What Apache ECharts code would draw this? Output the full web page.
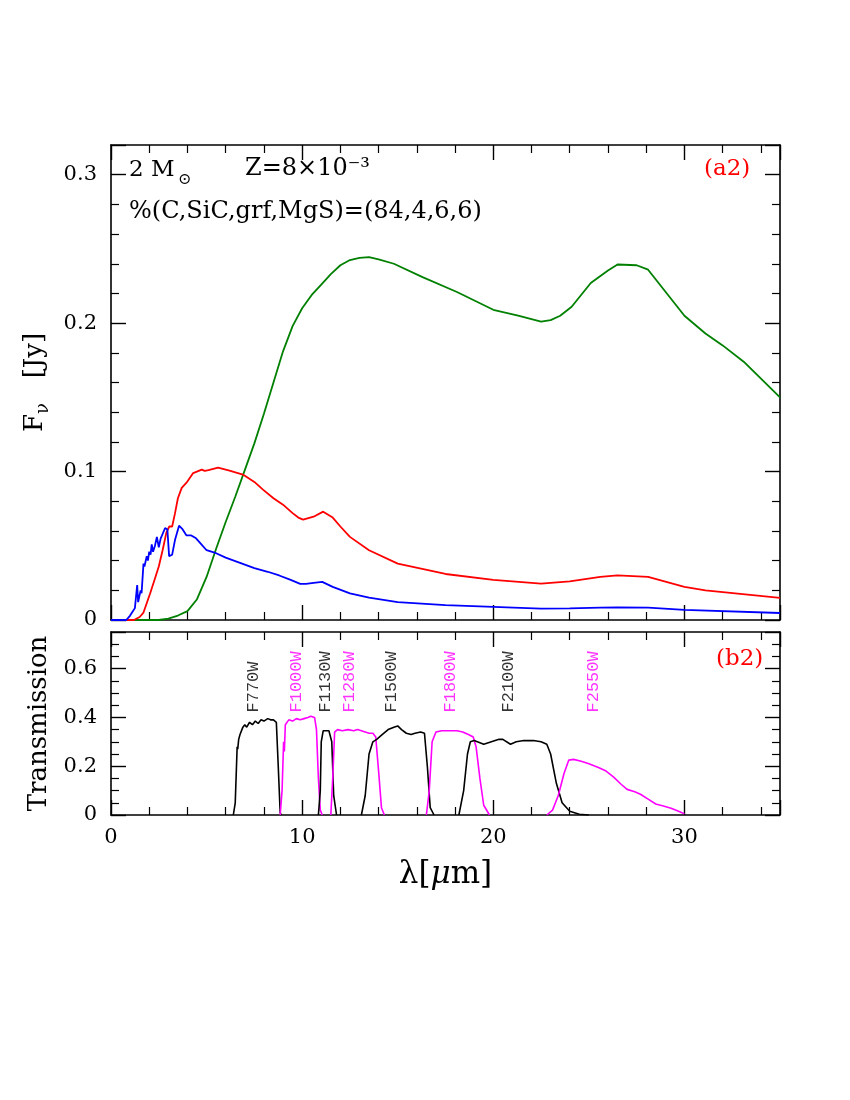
<!DOCTYPE html>
<html><head><meta charset="utf-8">
<script src="https://cdn.jsdelivr.net/npm/echarts/dist/echarts.min.js"></script>
<style>html,body{margin:0;padding:0;background:#fff}#c{width:850px;height:1100px}</style>
</head><body><div id="c"></div><script>
// ---- Top panel: SED components (F_nu in Jy vs wavelength in micron)
const greenX = [0,2.5,3.0,3.5,4.0,4.5,5.0,5.5,6.0,6.5,7.0,7.5,8.0,8.5,9.0,9.5,10.0,10.5,11.0,11.5,12.0,12.5,13.0,13.5,14.0,14.8,16.3,18.1,20.0,21.3,22.5,23.0,23.5,24.1,25.1,26.0,26.5,27.5,28.1,30.0,31.1,32.0,33.1,35.0];
const greenY = [0,0,0.001,0.003,0.006,0.014,0.029,0.048,0.066,0.083,0.101,0.119,0.139,0.160,0.181,0.198,0.210,0.219,0.226,0.233,0.239,0.2425,0.244,0.2445,0.243,0.240,0.231,0.221,0.209,0.205,0.201,0.202,0.205,0.211,0.227,0.2355,0.2395,0.239,0.236,0.205,0.193,0.185,0.174,0.150];

const redX = [0,1.2,1.5,1.7,2.05,2.3,2.5,2.7,2.9,3.05,3.2,3.35,3.5,3.7,3.95,4.3,4.75,4.9,5.1,5.6,6.2,6.9,7.5,7.95,8.5,9.0,9.5,9.8,10.05,10.6,11.1,11.6,12.0,12.5,13.5,15.0,17.5,20.0,22.5,24.0,25.6,26.5,28.1,30.0,31.1,35.0];
const redY = [0,0,0.002,0.005,0.018,0.028,0.036,0.047,0.059,0.063,0.063,0.072,0.082,0.089,0.0925,0.099,0.1013,0.1005,0.101,0.1027,0.1007,0.098,0.093,0.0878,0.082,0.0777,0.072,0.069,0.0676,0.0696,0.073,0.069,0.063,0.056,0.047,0.038,0.031,0.027,0.0245,0.026,0.029,0.030,0.029,0.0223,0.020,0.0149];

const blueX = [0,0.8,1.0,1.1,1.2,1.25,1.3,1.37,1.42,1.47,1.55,1.6,1.7,1.75,1.8,1.87,1.93,2.0,2.07,2.13,2.2,2.3,2.4,2.5,2.6,2.67,2.75,2.83,2.95,3.04,3.2,3.35,3.56,3.75,3.95,4.2,4.45,4.66,5.0,5.5,6.0,6.75,7.5,8.2,8.8,9.4,9.9,10.2,10.6,11.05,11.6,12.5,13.5,15.0,17.5,20.0,22.5,24.0,25.6,26.5,28.1,30.0,35.0];
const blueY = [0,0,0.003,0.005,0.004,0.008,0.007,0.0236,0.012,0.012,0.020,0.018,0.038,0.036,0.035,0.043,0.040,0.046,0.044,0.051,0.046,0.050,0.056,0.049,0.055,0.057,0.056,0.062,0.061,0.043,0.044,0.054,0.0635,0.061,0.057,0.057,0.055,0.052,0.047,0.045,0.042,0.0385,0.035,0.0325,0.030,0.027,0.0243,0.0243,0.025,0.0257,0.0223,0.018,0.015,0.012,0.010,0.0088,0.0076,0.0078,0.0083,0.0085,0.0083,0.0068,0.0047];

// ---- Bottom panel: MIRI filter transmission curves
const f770X  = [6.4,6.5,6.6,6.63,6.68,6.75,6.9,7.0,7.1,7.25,7.4,7.55,7.7,7.85,8.0,8.2,8.35,8.5,8.65,8.75,8.85,8.9];
const f770Y  = [0,0.05,0.28,0.27,0.31,0.33,0.36,0.37,0.36,0.38,0.37,0.385,0.375,0.39,0.385,0.395,0.39,0.39,0.38,0.2,0.01,0];
const f1000X = [8.85,8.95,9.03,9.07,9.12,9.3,9.5,9.7,9.9,10.1,10.3,10.45,10.55,10.65,10.75,10.85,10.95,11.05];
const f1000Y = [0,0.1,0.3,0.26,0.37,0.39,0.385,0.395,0.39,0.395,0.40,0.405,0.41,0.40,0.35,0.15,0.02,0];
const f1130X = [10.85,10.95,11.0,11.1,11.2,11.4,11.5,11.55,11.65,11.8];
const f1130Y = [0,0.1,0.3,0.345,0.35,0.345,0.35,0.3,0.08,0];
const f1280X = [11.5,11.6,11.7,11.85,12.1,12.4,12.7,12.9,13.1,13.3,13.5,13.7,13.85,14.0,14.15,14.3];
const f1280Y = [0,0.15,0.34,0.35,0.345,0.35,0.345,0.35,0.345,0.34,0.335,0.335,0.32,0.18,0.03,0];
const f1500X = [13.1,13.3,13.5,13.7,13.9,14.2,14.5,14.8,15.0,15.2,15.45,15.7,15.9,16.2,16.4,16.55,16.7,16.9];
const f1500Y = [0,0.08,0.25,0.3,0.31,0.33,0.35,0.36,0.365,0.35,0.335,0.33,0.335,0.34,0.335,0.2,0.03,0];
const f1800X = [16.5,16.65,16.8,17.0,17.3,17.7,18.1,18.4,18.7,18.95,19.1,19.3,19.5,19.8];
const f1800Y = [0,0.1,0.3,0.34,0.345,0.345,0.345,0.34,0.33,0.32,0.28,0.15,0.04,0];
const f2100X = [18.2,18.45,18.65,18.8,19.0,19.5,19.9,20.3,20.5,20.9,21.2,21.6,22.1,22.5,22.8,23.0,23.3,23.6,24.0,24.5,25.0];
const f2100Y = [0,0.1,0.25,0.3,0.305,0.29,0.30,0.31,0.31,0.29,0.30,0.305,0.305,0.30,0.29,0.25,0.13,0.05,0.015,0.003,0];
const f2550X = [22.8,23.1,23.4,23.7,23.95,24.2,24.6,25.0,25.5,25.9,26.3,26.7,27.0,27.4,27.7,28.1,28.5,28.9,29.3,29.6,29.9,30.0];
const f2550Y = [0,0.02,0.08,0.17,0.225,0.228,0.22,0.21,0.195,0.18,0.155,0.125,0.105,0.095,0.085,0.065,0.045,0.037,0.028,0.018,0.008,0.005];

const filterNames  = ['F770W','F1000W','F1130W','F1280W','F1500W','F1800W','F2100W','F2550W'];
const filterLabelX = [7.45,9.7,11.2,12.5,14.7,17.75,20.8,25.25];
const filterLabelY = 0.42;
const filterColors = ['#000000','#ff00ff','#000000','#ff00ff','#000000','#ff00ff','#000000','#ff00ff'];

const xTicks = {min:0, max:35, interval:10};
const yTopTicks = {min:0, max:0.32, interval:0.1};
const yBotTicks = {min:0, max:0.75, interval:0.2};

// ---- helpers
const zip = (xs, ys) => xs.map((x, i) => [x, ys[i]]);
const FONT = 'DejaVu Serif';
function minor(n) { return {show: true, splitNumber: n, length: 8, lineStyle: {color: '#000', width: 1.2}}; }
function axisCommon(extra) {
  return Object.assign({
    type: 'value',
    axisLine: {show: true, onZero: false, lineStyle: {color: '#000', width: 1.6}},
    axisTick: {show: true, inside: true, length: 15, lineStyle: {color: '#000', width: 1.4}},
    splitLine: {show: false},
    axisLabel: {show: false}
  }, extra);
}
function lineSeries(data, color, xi, yi, w) {
  return {type: 'line', data, xAxisIndex: xi, yAxisIndex: yi, showSymbol: false, symbol: 'none',
    lineStyle: {color, width: w || 1.8}, itemStyle: {color}, animation: false, silent: true, z: 3};
}

const labelStyle = {fontFamily: FONT, fontSize: 21, color: '#000'};

const option = {
  animation: false,
  backgroundColor: '#fff',
  grid: [
    {left: 111, top: 145, width: 669, height: 475},
    {left: 111, top: 632, width: 669, height: 183}
  ],
  xAxis: [
    axisCommon(Object.assign({gridIndex: 0, position: 'bottom', minorTick: minor(5)}, xTicks)),
    axisCommon(Object.assign({gridIndex: 0, position: 'top', minorTick: minor(5)}, xTicks)),
    axisCommon(Object.assign({gridIndex: 1, position: 'bottom', minorTick: minor(5),
      axisLabel: Object.assign({show: true, margin: 12, showMaxLabel: false}, labelStyle),
      name: 'λ[{i|μ}m]', nameLocation: 'middle', nameGap: 44,
      nameTextStyle: {fontFamily: FONT, fontSize: 31, color: '#000',
        rich: {i: {fontFamily: FONT, fontSize: 31, fontStyle: 'italic', color: '#000'}}}}, xTicks)),
    axisCommon(Object.assign({gridIndex: 1, position: 'top', minorTick: minor(5)}, xTicks))
  ],
  yAxis: [
    axisCommon(Object.assign({gridIndex: 0, position: 'left', minorTick: minor(5),
      axisLabel: Object.assign({show: true, margin: 14, showMaxLabel: false}, labelStyle),
      name: 'F{sub|ν}   [Jy]', nameLocation: 'middle', nameGap: 50, nameRotate: 90,
      nameTextStyle: {fontFamily: FONT, fontSize: 26, color: '#000', lineHeight: 34,
        rich: {sub: {fontFamily: FONT, fontSize: 18, color: '#000', verticalAlign: 'bottom', lineHeight: 34}}}}, yTopTicks)),
    axisCommon(Object.assign({gridIndex: 0, position: 'right', minorTick: minor(5)}, yTopTicks)),
    axisCommon(Object.assign({gridIndex: 1, position: 'left', minorTick: minor(4),
      axisLabel: Object.assign({show: true, margin: 14, showMaxLabel: false}, labelStyle),
      name: 'Transmission', nameLocation: 'middle', nameGap: 56, nameRotate: 90,
      nameTextStyle: {fontFamily: FONT, fontSize: 26, color: '#000'}}, yBotTicks)),
    axisCommon(Object.assign({gridIndex: 1, position: 'right', minorTick: minor(4)}, yBotTicks))
  ],
  series: [
    lineSeries(zip(greenX, greenY), '#008000', 0, 0),
    lineSeries(zip(redX, redY), '#ff0000', 0, 0),
    lineSeries(zip(blueX, blueY), '#0000ff', 0, 0),
    lineSeries(zip(f770X, f770Y), '#000000', 2, 2, 1.6),
    lineSeries(zip(f1000X, f1000Y), '#ff00ff', 2, 2, 1.6),
    lineSeries(zip(f1130X, f1130Y), '#000000', 2, 2, 1.6),
    lineSeries(zip(f1280X, f1280Y), '#ff00ff', 2, 2, 1.6),
    lineSeries(zip(f1500X, f1500Y), '#000000', 2, 2, 1.6),
    lineSeries(zip(f1800X, f1800Y), '#ff00ff', 2, 2, 1.6),
    lineSeries(zip(f2100X, f2100Y), '#000000', 2, 2, 1.6),
    lineSeries(zip(f2550X, f2550Y), '#ff00ff', 2, 2, 1.6),
    {
      type: 'scatter', xAxisIndex: 2, yAxisIndex: 2, symbolSize: 0, silent: true, animation: false,
      data: filterNames.map((n, i) => ({
        value: [filterLabelX[i], filterLabelY],
        label: {show: true, formatter: n, rotate: 90, position: 'inside', align: 'left', verticalAlign: 'middle',
          fontFamily: 'Liberation Mono', fontSize: 17, color: filterColors[i]}
      }))
    }
  ],
  graphic: [
    {type: 'text', left: 129, top: 159, style: {text: '2 M', font: '23px "DejaVu Serif"', fill: '#000'}},
    {type: 'text', left: 178, top: 172, style: {text: '⊙', font: '16px "DejaVu Serif"', fill: '#000'}},
    {type: 'text', left: 245, top: 157, style: {text: 'Z=8×10⁻³', font: '24px "DejaVu Serif"', fill: '#000'}},
    {type: 'text', left: 129, top: 200, style: {text: '%(C,SiC,grf,MgS)=(84,4,6,6)', font: '24px "DejaVu Serif"', fill: '#000'}},
    {type: 'text', left: 704, top: 158, style: {text: '(a2)', font: '23px "DejaVu Serif"', fill: '#ff0000'}},
    {type: 'text', left: 716, top: 648, style: {text: '(b2)', font: '23px "DejaVu Serif"', fill: '#ff0000'}}
  ]
};
const chart = echarts.init(document.getElementById('c'), null, {renderer: 'canvas'});
chart.setOption(option);
</script></body></html>
